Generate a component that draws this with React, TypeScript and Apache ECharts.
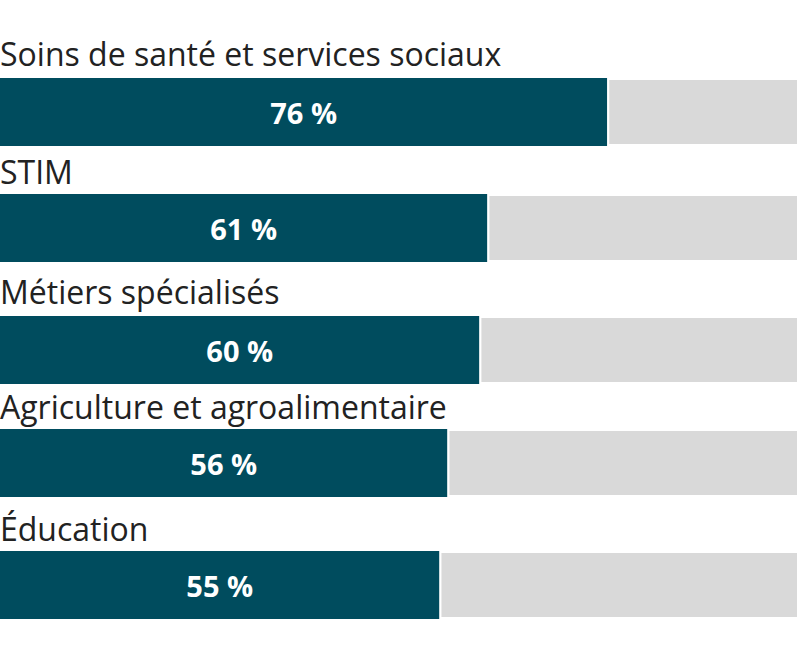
import React, { useEffect, useRef } from "react";
import * as echarts from "echarts";

const categories: string[] = [
  "Soins de santé et services sociaux",
  "STIM",
  "Métiers spécialisés",
  "Agriculture et agroalimentaire",
  "Éducation",
];
const values: number[] = [76, 61, 60, 56, 55];
const total = 100;

const barTops = [78, 194, 316, 429, 551];
const labelBaselines = [66.5, 184, 304, 419, 541];
const barHeight = 68;

export default function App() {
  const ref = useRef<HTMLDivElement>(null);
  useEffect(() => {
    if (!ref.current) return;
    const chart = echarts.init(ref.current, null, { renderer: "svg" });
    const grids: any[] = [];
    const xAxes: any[] = [];
    const yAxes: any[] = [];
    const series: any[] = [];
    const titles: any[] = [];
    categories.forEach((cat, i) => {
      grids.push({ left: 0, right: 1, top: barTops[i], height: barHeight });
      xAxes.push({ gridIndex: i, type: "value", min: 0, max: total, show: false });
      yAxes.push({ gridIndex: i, type: "category", data: [cat], show: false });
      series.push({
        type: "bar",
        xAxisIndex: i,
        yAxisIndex: i,
        stack: "s" + i,
        barWidth: "100%",
        data: [values[i]],
        itemStyle: { color: "#004c5e" },
        label: {
          show: true,
          position: "inside",
          formatter: (p: any) => p.value + " %",
          color: "#ffffff",
          fontFamily: "Open Sans",
          fontWeight: "bold",
          fontSize: 29,
        },
        silent: true,
      });
      series.push({
        type: "bar",
        xAxisIndex: i,
        yAxisIndex: i,
        stack: "s" + i,
        barWidth: "100%",
        data: [total - values[i]],
        itemStyle: { color: "#d9d9d9", borderColor: "#ffffff", borderWidth: 2 },
        silent: true,
      });
      titles.push({
        text: cat,
        left: 0,
        top: labelBaselines[i] - 29,
        padding: 0,
        textStyle: {
          fontFamily: "Open Sans",
          fontSize: 32,
          fontWeight: "normal",
          color: "#222222",
        },
      });
    });
    chart.setOption({
      animation: false,
      backgroundColor: "#ffffff",
      title: titles,
      grid: grids,
      xAxis: xAxes,
      yAxis: yAxes,
      series,
    });
    return () => chart.dispose();
  }, []);
  return (
    <div
      ref={ref}
      style={{ position: "fixed", left: 0, top: 0, width: 800, height: 665 }}
    />
  );
}
